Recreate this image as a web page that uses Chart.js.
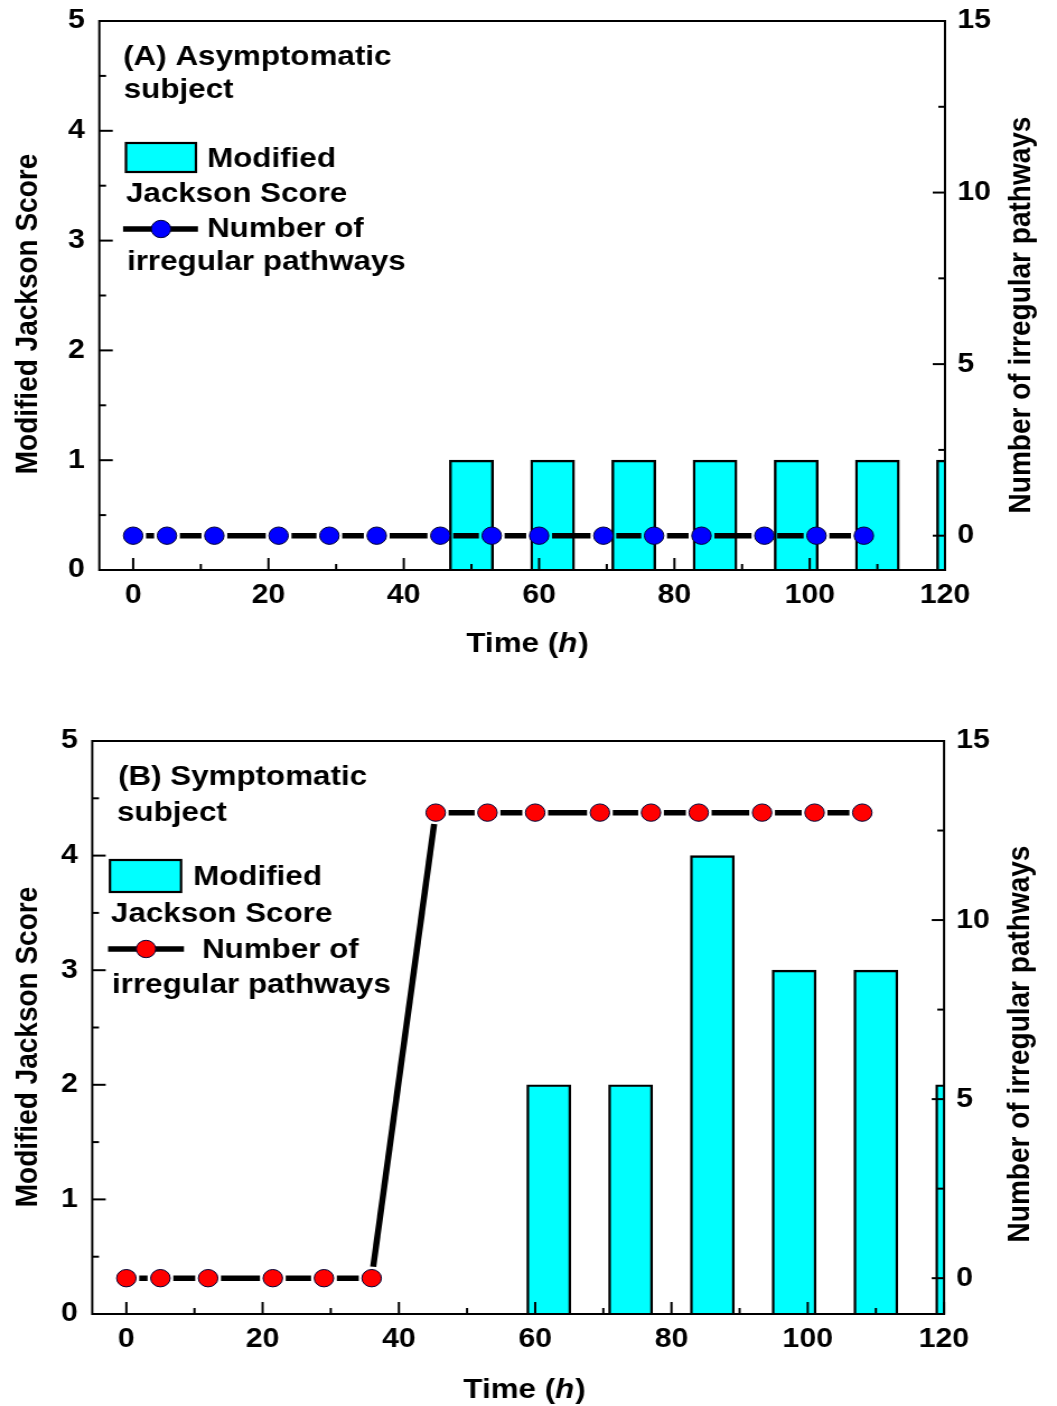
<!DOCTYPE html>
<html>
<head>
<meta charset="utf-8">
<script src="https://cdn.jsdelivr.net/npm/chart.js@4.4.0/dist/chart.umd.min.js"></script>
<style>
  html, body { margin: 0; padding: 0; background: #fff; }
  body { width: 1057px; height: 1406px; position: relative; overflow: hidden; }
  canvas { position: absolute; left: 0; }
</style>
</head>
<body>
<!-- the source figure is stretched a bit sideways, so the canvas is drawn narrow and widened by css -->
<canvas id="chartA" width="944" height="700" style="top:0;width:1057px;height:700px"></canvas>
<canvas id="chartB" width="944" height="700" style="top:706px;width:1057px;height:700px"></canvas>
<script>
// time points of the irregular pathway counts (h)
const times = [0, 5, 12, 21.5, 29, 36, 45.4, 53, 60, 69.5, 77, 84, 93.3, 101, 108];
const pathwaysA = [0, 0, 0, 0, 0, 0, 0, 0, 0, 0, 0, 0, 0, 0, 0];
const pathwaysB = [0, 0, 0, 0, 0, 0, 13, 13, 13, 13, 13, 13, 13, 13, 13];

// modified Jackson score bars (h)
const barTimes = [50, 62, 74, 86, 98, 110, 122];
const scoreA = [1, 1, 1, 1, 1, 1, 1];
const scoreB = [null, 2, 2, 4, 3, 3, 2];

// ticks
const xMajorTicks = [0, 20, 40, 60, 80, 100, 120];
const xMinorTicks = [10, 30, 50, 70, 90, 110];
const leftMajorTicks = [0, 1, 2, 3, 4, 5];
const leftMinorTicks = [0.5, 1.5, 2.5, 3.5, 4.5];
const rightMajorTicks = [0, 5, 10, 15];
const rightMinorTicks = [2.5, 7.5, 12.5];

const W = 944, H = 700;
const FONT = '"Liberation Sans", Arial, sans-serif';
const GAP = 11.5; // line stops short of each marker, like the original plot

Chart.defaults.font.family = FONT;
Chart.defaults.font.weight = 'bold';
Chart.defaults.color = '#000';

const panelPlugin = {
  id: 'panel',
  afterDatasetsDraw(chart, args, o) {
    const { ctx, chartArea: a, scales } = chart;
    ctx.save();
    ctx.strokeStyle = '#000';
    ctx.lineWidth = 2;
    ctx.strokeRect(a.left, a.top, a.right - a.left, a.bottom - a.top);
    const seg = (x1, y1, x2, y2) => {
      ctx.beginPath(); ctx.moveTo(x1, y1); ctx.lineTo(x2, y2); ctx.stroke();
    };
    xMajorTicks.forEach(v => { const p = scales.x.getPixelForValue(v); seg(p, a.bottom, p, a.bottom - 12); });
    xMinorTicks.forEach(v => { const p = scales.x.getPixelForValue(v); seg(p, a.bottom, p, a.bottom - 6); });
    leftMajorTicks.forEach(v => { const p = scales.y.getPixelForValue(v); seg(a.left, p, a.left + 12, p); });
    leftMinorTicks.forEach(v => { const p = scales.y.getPixelForValue(v); seg(a.left, p, a.left + 6, p); });
    rightMajorTicks.forEach(v => { const p = scales.y2.getPixelForValue(v); seg(a.right, p, a.right - 11, p); });
    rightMinorTicks.forEach(v => { const p = scales.y2.getPixelForValue(v); seg(a.right, p, a.right - 6, p); });
    ctx.restore();
  },
  afterDraw(chart, args, o) {
    const ctx = chart.ctx;
    ctx.save();
    ctx.fillStyle = '#000';
    ctx.font = 'bold 28px ' + FONT;

    // axis titles
    ctx.textAlign = 'center';
    ctx.textBaseline = 'middle';
    ctx.save();
    ctx.translate(o.leftTitle[0], o.leftTitle[1]);
    ctx.rotate(-Math.PI / 2);
    ctx.fillText('Modified Jackson Score', 0, 0);
    ctx.restore();
    ctx.save();
    ctx.translate(o.rightTitle[0], o.rightTitle[1]);
    ctx.rotate(-Math.PI / 2);
    ctx.fillText('Number of irregular pathways', 0, 0);
    ctx.restore();

    ctx.textAlign = 'left';
    ctx.textBaseline = 'alphabetic';
    const italic = 'italic bold 28px ' + FONT;
    const regular = 'bold 28px ' + FONT;
    const w1 = ctx.measureText('Time (').width;
    ctx.font = italic;
    const w2 = ctx.measureText('h').width;
    ctx.font = regular;
    const w3 = ctx.measureText(')').width;
    let x = o.xTitle[0] - (w1 + w2 + w3) / 2;
    const y = o.xTitle[1];
    ctx.fillText('Time (', x, y);
    ctx.font = italic;
    ctx.fillText('h', x + w1, y);
    ctx.font = regular;
    ctx.fillText(')', x + w1 + w2 + 1, y);

    // panel label and legend
    o.texts.forEach(t => ctx.fillText(t[0], t[1], t[2]));
    const b = o.box;
    ctx.fillStyle = '#00FFFF';
    ctx.fillRect(b[0], b[1], b[2], b[3]);
    ctx.strokeStyle = '#000';
    ctx.lineWidth = 2.2;
    ctx.strokeRect(b[0], b[1], b[2], b[3]);
    const l = o.lineKey;
    ctx.lineWidth = 5.5;
    ctx.beginPath(); ctx.moveTo(l[0], l[2]); ctx.lineTo(l[1], l[2]); ctx.stroke();
    ctx.beginPath();
    ctx.arc(l[3], l[2], 8.7, 0, Math.PI * 2);
    ctx.fillStyle = o.markerColor;
    ctx.fill();
    ctx.lineWidth = 1;
    ctx.strokeStyle = '#000033';
    ctx.stroke();
    ctx.restore();
  }
};

function fixTicks(list) {
  return scale => { scale.ticks = list.map(v => ({ value: v })); };
}

function makeChart(id, counts, scores, markerColor, g) {
  const noGrid = { display: false, drawTicks: false, offset: false };
  return new Chart(document.getElementById(id), {
    type: 'line',
    data: {
      datasets: [{
        type: 'line',
        data: times.map((t, i) => ({ x: t, y: counts[i] })),
        yAxisID: 'y2',
        borderColor: '#000',
        borderWidth: 5.5,
        tension: 0,
        segment: {
          borderDash: c => {
            const len = Math.hypot(c.p1.x - c.p0.x, c.p1.y - c.p0.y);
            return [Math.max(len - 2 * GAP, 0.1), 2 * GAP];
          },
          borderDashOffset: () => -GAP
        },
        pointRadius: 8.7,
        pointBackgroundColor: markerColor,
        pointBorderColor: '#000033',
        pointBorderWidth: 1,
        order: 0
      }, {
        type: 'bar',
        data: barTimes.map((t, i) => ({ x: t, y: scores[i] })),
        yAxisID: 'y',
        backgroundColor: '#00FFFF',
        borderColor: '#000',
        borderWidth: 2.4,
        barThickness: 39.3,
        order: 1
      }]
    },
    options: {
      responsive: false,
      animation: false,
      layout: { padding: { top: g.top, left: 0, right: 0, bottom: 0 } },
      plugins: {
        legend: { display: false },
        tooltip: { enabled: false },
        panel: g.panel
      },
      scales: {
        x: {
          type: 'linear', min: -5, max: 120, offset: false,
          grid: noGrid, border: { display: false },
          afterBuildTicks: fixTicks(xMajorTicks),
          afterFit: s => { s.height = H - g.bottom; s.paddingLeft = 0; s.paddingRight = 0; },
          ticks: { font: { size: 27 }, padding: 9, maxRotation: 0, autoSkip: false }
        },
        y: {
          position: 'left', min: 0, max: 5,
          grid: noGrid, border: { display: false },
          afterBuildTicks: fixTicks(leftMajorTicks),
          afterFit: s => { s.width = g.left; s.paddingTop = 0; s.paddingBottom = 0; },
          ticks: { font: { size: 27 }, padding: 13 }
        },
        y2: {
          position: 'right', min: -1, max: 15,
          grid: noGrid, border: { display: false },
          afterBuildTicks: fixTicks(rightMajorTicks),
          afterFit: s => { s.width = W - g.right; s.paddingTop = 0; s.paddingBottom = 0; },
          ticks: { font: { size: 27 }, padding: 11 }
        }
      }
    },
    plugins: [panelPlugin]
  });
}

makeChart('chartA', pathwaysA, scoreA, '#0000FF', {
  top: 21, bottom: 570, left: 88.7, right: 844,
  panel: {
    leftTitle: [25, 314], rightTitle: [912, 315], xTitle: [470.7, 652],
    texts: [
      ['(A) Asymptomatic', 110, 65],
      ['subject', 110.5, 98],
      ['Modified', 184.9, 167],
      ['Jackson Score', 112.5, 202],
      ['Number of', 184.9, 237],
      ['irregular pathways', 113.4, 270]
    ],
    box: [112.5, 143, 62.5, 29],
    lineKey: [109.9, 176.8, 229, 143.8],
    markerColor: '#0000FF'
  }
});

makeChart('chartB', pathwaysB, scoreB, '#FF0000', {
  top: 35, bottom: 608, left: 82.4, right: 843.1,
  panel: {
    leftTitle: [25, 341], rightTitle: [911, 338], xTitle: [468, 692],
    texts: [
      ['(B) Symptomatic', 105.4, 79],
      ['subject', 104.5, 115],
      ['Modified', 172.4, 179],
      ['Jackson Score', 99.1, 216],
      ['Number of', 180.4, 252],
      ['irregular pathways', 100, 287]
    ],
    box: [98.2, 154, 63.5, 32],
    lineKey: [96.5, 164.3, 243, 130.4],
    markerColor: '#FF0000'
  }
});
</script>
</body>
</html>
